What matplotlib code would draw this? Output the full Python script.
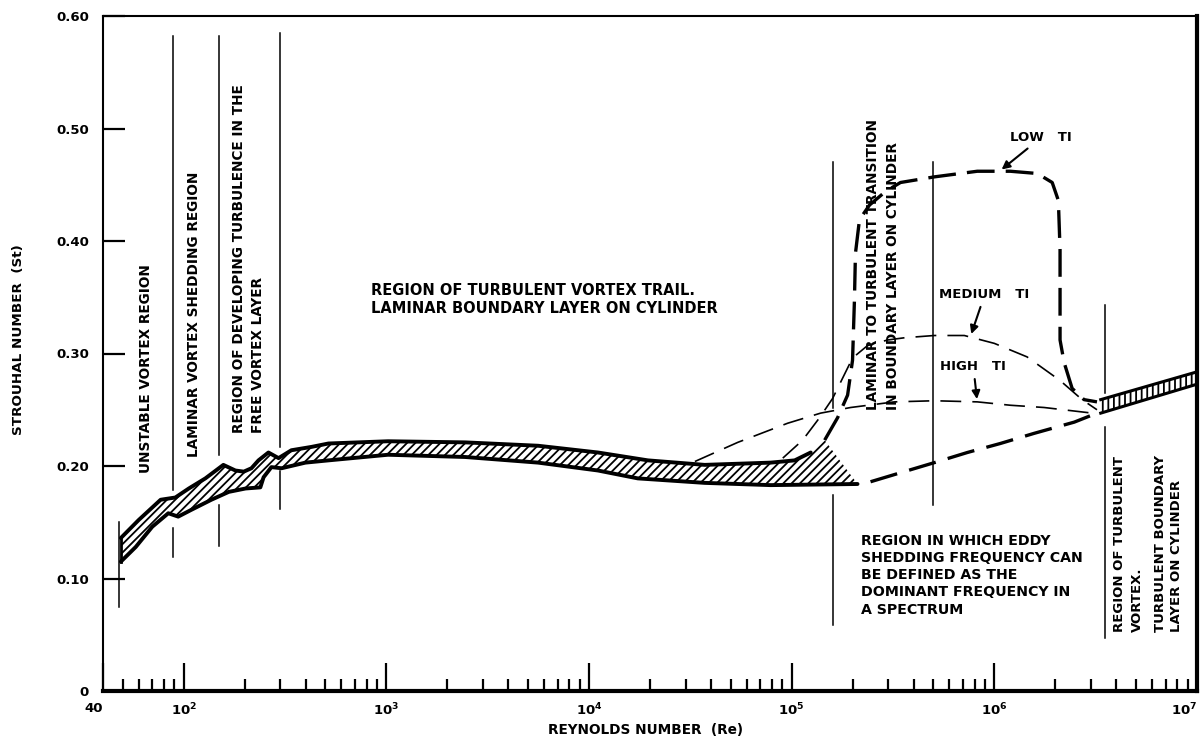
import numpy as np
import matplotlib
matplotlib.use("Agg")
import matplotlib.pyplot as plt

plt.rcParams['font.family'] = ['DejaVu Sans']
plt.rcParams['font.weight'] = 'bold'
plt.rcParams['lines.scale_dashes'] = False
plt.rcParams['hatch.linewidth'] = 1.3

# ---- data (Re, St) ----
band_upper_re = [49, 60, 77, 91, 106, 128, 157, 180, 198, 216, 234, 262, 294, 340, 428, 518,
                 1020, 2450, 5610, 11070, 19540, 37240, 78800, 103500, 124200, 145500]
band_upper_st = [0.136, 0.152, 0.170, 0.172, 0.180, 0.189, 0.201, 0.196, 0.195, 0.198, 0.205,
                 0.212, 0.207, 0.214, 0.217, 0.220, 0.222, 0.221, 0.218, 0.212, 0.205, 0.201,
                 0.203, 0.205, 0.212, 0.223]
band_lower_re = [49, 58, 70, 84, 94, 109, 137, 167, 202, 239, 248, 271, 304, 399, 518,
                 1020, 2450, 5610, 11070, 17400, 37240, 78800, 211300]
band_lower_st = [0.115, 0.128, 0.146, 0.158, 0.155, 0.161, 0.170, 0.177, 0.180, 0.181, 0.190,
                 0.199, 0.198, 0.203, 0.205, 0.210, 0.208, 0.203, 0.196, 0.189, 0.185, 0.183, 0.184]

low_ti_re = [145500, 168600, 188800, 199700, 204100, 206400, 216100, 242300, 290400, 344300,
             506000, 824000, 1.2e6, 1.63e6, 1.93e6, 2.07e6, 2.11e6, 2.11e6, 2.11e6, 2.21e6,
             2.42e6, 2.77e6, 3.21e6]
low_ti_st = [0.223, 0.243, 0.263, 0.294, 0.348, 0.389, 0.419, 0.432, 0.444, 0.452, 0.457,
             0.462, 0.462, 0.460, 0.452, 0.436, 0.392, 0.348, 0.312, 0.292, 0.269, 0.259, 0.257]

med_ti_re = [90400, 113300, 137400, 159200, 178300, 199700, 236600, 297200, 360600, 506000,
             711000, 1.0e6, 1.45e6, 2.11e6, 2.71e6, 3.21e6]
med_ti_st = [0.207, 0.223, 0.243, 0.260, 0.278, 0.296, 0.307, 0.312, 0.314, 0.316, 0.316,
             0.309, 0.297, 0.276, 0.259, 0.250]

high_ti_re = [33300, 54200, 95500, 139000, 195400, 321300, 506000, 824000, 1.2e6, 1.76e6, 3.04e6]
high_ti_st = [0.204, 0.221, 0.238, 0.247, 0.252, 0.257, 0.258, 0.257, 0.254, 0.252, 0.247]

turb_re = [245000, 344300, 506000, 736000, 1.07e6, 1.57e6, 2.48e6, 3.21e6]
turb_st = [0.186, 0.194, 0.203, 0.212, 0.220, 0.229, 0.239, 0.247]

post_re = [3.35e6, 9.7e6]
post_upper_st = [0.259, 0.283]
post_lower_st = [0.247, 0.272]

# region boundary lines: Re, list of (St from, St to) segments
region_re = [48, 89, 149, 300, 1.6e5, 5e5, 3.5e6]
region_segs = [[(0.075, 0.150)],
               [(0.179, 0.582), (0.119, 0.145)],
               [(0.210, 0.582), (0.129, 0.165)],
               [(0.217, 0.585), (0.162, 0.196)],
               [(0.252, 0.470), (0.059, 0.174)],
               [(0.165, 0.470)],
               [(0.265, 0.343), (0.047, 0.235)]]

x_ticks = [40, 1e2, 1e3, 1e4, 1e5, 1e6, 1e7]
x_ticklabels = ['40', r'$\mathbf{10^2}$', r'$\mathbf{10^3}$', r'$\mathbf{10^4}$',
                r'$\mathbf{10^5}$', r'$\mathbf{10^6}$', r'$\mathbf{10^7}$']
y_ticks = [0, 0.1, 0.2, 0.3, 0.4, 0.5, 0.6]
y_ticklabels = ['0', '0.10', '0.20', '0.30', '0.40', '0.50', '0.60']

fig = plt.figure(figsize=(12.03, 7.42), dpi=100)
ax = fig.add_axes([103 / 1203, 1 - 691 / 742, 1094 / 1203, 675 / 742])
ax.set_xscale('log')
ax.set_xlim(40, 1e7)
ax.set_ylim(0, 0.6)

# hatched band
hatch_x = band_upper_re + [band_lower_re[-1]] + band_lower_re[::-1]
hatch_y = band_upper_st + [band_lower_st[-1]] + band_lower_st[::-1]
ax.fill(hatch_x, hatch_y, facecolor='none', edgecolor='black', hatch='////', linewidth=0)
ax.plot(band_upper_re[:-1], band_upper_st[:-1], color='black', lw=2.8, solid_capstyle='round')
ax.plot(band_lower_re, band_lower_st, color='black', lw=2.8, solid_capstyle='round')
ax.plot([band_upper_re[0], band_lower_re[0]], [band_upper_st[0], band_lower_st[0]], color='black', lw=2)

# transition curves
ax.plot(low_ti_re, low_ti_st, color='black', lw=2.4, dashes=(20, 8))
ax.plot(med_ti_re, med_ti_st, color='black', lw=1.2, dashes=(15, 8))
ax.plot(high_ti_re, high_ti_st, color='black', lw=1.2, dashes=(15, 8))
ax.plot(turb_re, turb_st, color='black', lw=2.4, dashes=(20, 9))

# supercritical band
ax.fill_between(post_re, post_lower_st, post_upper_st, facecolor='none', edgecolor='black',
                hatch='|||', linewidth=0)
ax.plot(post_re, post_upper_st, color='black', lw=2.2)
ax.plot(post_re, post_lower_st, color='black', lw=2.2)

# region boundaries
for re, segs in zip(region_re, region_segs):
    for s0, s1 in segs:
        ax.plot([re, re], [s0, s1], color='black', lw=1.1)

# region labels
kw = dict(fontsize=9.8, fontweight='bold', rotation=90, ha='center', va='bottom')
ax.text(65, 0.194, 'UNSTABLE VORTEX REGION', **kw)
ax.text(112, 0.208, 'LAMINAR VORTEX SHEDDING REGION', **kw)
ax.text(187, 0.229, 'REGION OF DEVELOPING TURBULENCE IN THE', **kw)
ax.text(232, 0.229, 'FREE VORTEX LAYER', **kw)
ax.text(250600, 0.250, 'LAMINAR TO TURBULENT TRANSITION', **kw)
ax.text(314600, 0.250, 'IN BOUNDARY LAYER ON CYLINDER', **kw)
kw['fontsize'] = 9.5
ax.text(4.13e6, 0.052, 'REGION OF TURBULENT', **kw)
ax.text(5.06e6, 0.052, 'VORTEX.', **kw)
ax.text(6.57e6, 0.052, 'TURBULENT BOUNDARY', **kw)
ax.text(7.96e6, 0.052, 'LAYER ON CYLINDER', **kw)

ax.text(843, 0.348, 'REGION OF TURBULENT VORTEX TRAIL.\nLAMINAR BOUNDARY LAYER ON CYLINDER',
        fontsize=10.5, fontweight='bold', ha='left', va='center', linespacing=1.2)
ax.text(218800, 0.103, 'REGION IN WHICH EDDY\nSHEDDING FREQUENCY CAN\nBE DEFINED AS THE\n'
        'DOMINANT FREQUENCY IN\nA SPECTRUM',
        fontsize=10.2, fontweight='bold', ha='left', va='center', linespacing=1.3)

arrow = dict(arrowstyle='-|>', color='black', lw=1.5, mutation_scale=12)
ax.annotate('LOW   TI', xy=(1.06e6, 0.462), xytext=(1.2e6, 0.492), fontsize=9.5,
            fontweight='bold', va='center', arrowprops=arrow)
ax.annotate('MEDIUM   TI', xy=(762000, 0.315), xytext=(536000, 0.352), fontsize=9.5,
            fontweight='bold', va='center', arrowprops=arrow)
ax.annotate('HIGH   TI', xy=(824000, 0.257), xytext=(542000, 0.288), fontsize=9.5,
            fontweight='bold', va='center', arrowprops=arrow)

# axes styling
ax.set_xticks(x_ticks)
ax.set_xticklabels(x_ticklabels)
ax.set_yticks(y_ticks)
ax.set_yticklabels(y_ticklabels)
ax.tick_params(axis='x', which='major', direction='in', length=20, width=1.6, labelsize=9.5, pad=8)
ax.tick_params(axis='x', which='minor', direction='in', length=9, width=1.6)
ax.tick_params(axis='y', direction='in', length=16, width=1.6, labelsize=9.5, pad=10)
for lab in ax.get_xticklabels() + ax.get_yticklabels():
    lab.set_fontweight('bold')
ax.get_xticklabels()[0].set_horizontalalignment('right')
ax.get_xticklabels()[-1].set_horizontalalignment('right')
ax.spines['left'].set_linewidth(1.5)
ax.spines['top'].set_linewidth(1.5)
ax.spines['bottom'].set_linewidth(3)
ax.spines['right'].set_linewidth(3)

fig.text(19 / 1203, 1 - 340 / 742, 'STROUHAL NUMBER  (St)', rotation=90, ha='center',
         va='center', fontsize=9.7, fontweight='bold')
fig.text(645 / 1203, 1 - 730 / 742, 'REYNOLDS NUMBER  (Re)', ha='center', va='center',
         fontsize=9.8, fontweight='bold')

fig.savefig('out.png', dpi=100)
